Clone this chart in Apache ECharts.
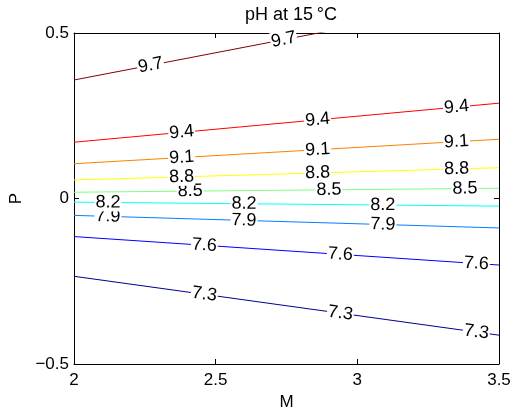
<!DOCTYPE html>
<html>
<head>
<meta charset="utf-8">
<script src="https://cdn.jsdelivr.net/npm/echarts@6/dist/echarts.min.js"></script>
<style>
  html, body { margin: 0; padding: 0; background: #fff; }
  #chart { width: 514px; height: 412px; }
</style>
</head>
<body>
<div id="chart"></div>
<script>
// contour levels and where each line crosses M = 2 and M = 3.5
const levels = [7.3, 7.6, 7.9, 8.2, 8.5, 8.8, 9.1, 9.4, 9.7]
const pAtLeft = [-0.235, -0.115, -0.051, -0.011, 0.019, 0.056, 0.105, 0.170, 0.358]
const pAtRight = [-0.413, -0.201, -0.089, -0.023, 0.031, 0.093, 0.179, 0.288, 0.605]
const levelColors = ['#000090', '#0000ff', '#0080ff', '#00ffff', '#80ff80', '#ffff00', '#ff8000', '#ff0000', '#800000']
// M positions of the inline labels on each line
const labelM = [
  [2.46, 2.94, 3.42],
  [2.46, 2.94, 3.42],
  [2.12, 2.60, 3.09],
  [2.12, 2.60, 3.09],
  [2.41, 2.90, 3.38],
  [2.38, 2.86, 3.35],
  [2.38, 2.86, 3.35],
  [2.38, 2.86, 3.35],
  [2.27, 2.74]
]
const xTicks = [2, 2.5, 3, 3.5]
const yTicks = [-0.5, 0, 0.5]

const M0 = 2, M1 = 3.5
const grid = { left: 74, right: 15, top: 33, bottom: 48, outerBoundsMode: 'none', containLabel: false }
const plotW = 514 - grid.left - grid.right
const plotH = 412 - grid.top - grid.bottom
const pxPerM = plotW / (M1 - M0)
const pxPerP = plotH / (yTicks[2] - yTicks[0])

const font = 'Liberation Sans, Arial, Helvetica, sans-serif'
const fmt = v => (v < 0 ? '\u2212' + Math.abs(v) : String(v))

const series = []
levels.forEach((lv, i) => {
  series.push({
    type: 'line',
    data: [[M0, pAtLeft[i]], [M1, pAtRight[i]]],
    symbol: 'none',
    silent: true,
    clip: true,
    lineStyle: { color: levelColors[i], width: 1 },
    z: 2
  })
})

// inline labels, rotated along each line
levels.forEach((lv, i) => {
  const slope = (pAtRight[i] - pAtLeft[i]) / (M1 - M0)
  const angle = Math.atan(slope * pxPerP / pxPerM) * 180 / Math.PI
  series.push({
    type: 'scatter',
    symbolSize: 0,
    silent: true,
    z: 5,
    itemStyle: { opacity: 1 },
    data: labelM[i].map(m => ({
      value: [m, pAtLeft[i] + slope * (m - M0)],
      label: { rotate: angle }
    })),
    label: {
      show: true,
      position: 'inside',
      formatter: () => lv.toFixed(1),
      color: '#000',
      textBorderWidth: 0,
      fontSize: 18,
      fontFamily: font,
      backgroundColor: '#fff',
      padding: [0, 1]
    }
  })
})

const chart = echarts.init(document.getElementById('chart'))

const axisBase = {
  type: 'value',
  axisLine: { show: true, onZero: false, lineStyle: { color: '#000', width: 1 } },
  axisTick: { show: true, inside: true, length: 5, lineStyle: { color: '#000' } },
  splitLine: { show: false }
}

chart.setOption({
  animation: false,
  backgroundColor: '#fff',
  title: {
    text: 'pH at 15\u2009\u00b0C',
    left: 286,
    textAlign: 'center',
    top: 1,
    textStyle: { fontSize: 18, fontWeight: 'normal', color: '#000', fontFamily: font }
  },
  grid: grid,
  xAxis: [
    Object.assign({}, axisBase, {
      min: M0, max: M1, interval: 0.5,
      name: 'M', nameLocation: 'middle', nameGap: 27,
      nameTextStyle: { fontSize: 17, color: '#000', fontFamily: font },
      axisLabel: { color: '#000', fontSize: 17, fontFamily: font, margin: 8, formatter: fmt }
    }),
    Object.assign({}, axisBase, {
      position: 'top', min: M0, max: M1, interval: 0.5,
      axisLabel: { show: false }
    })
  ],
  yAxis: [
    Object.assign({}, axisBase, {
      min: -0.5, max: 0.5, interval: 0.5,
      name: 'P', nameLocation: 'middle', nameGap: 47,
      nameTextStyle: { fontSize: 17, color: '#000', fontFamily: font },
      axisLabel: { color: '#000', fontSize: 17, fontFamily: font, margin: 5, formatter: fmt }
    }),
    Object.assign({}, axisBase, {
      position: 'right', min: -0.5, max: 0.5, interval: 0.5,
      axisLabel: { show: false }
    })
  ],
  series: series
})
</script>
</body>
</html>
